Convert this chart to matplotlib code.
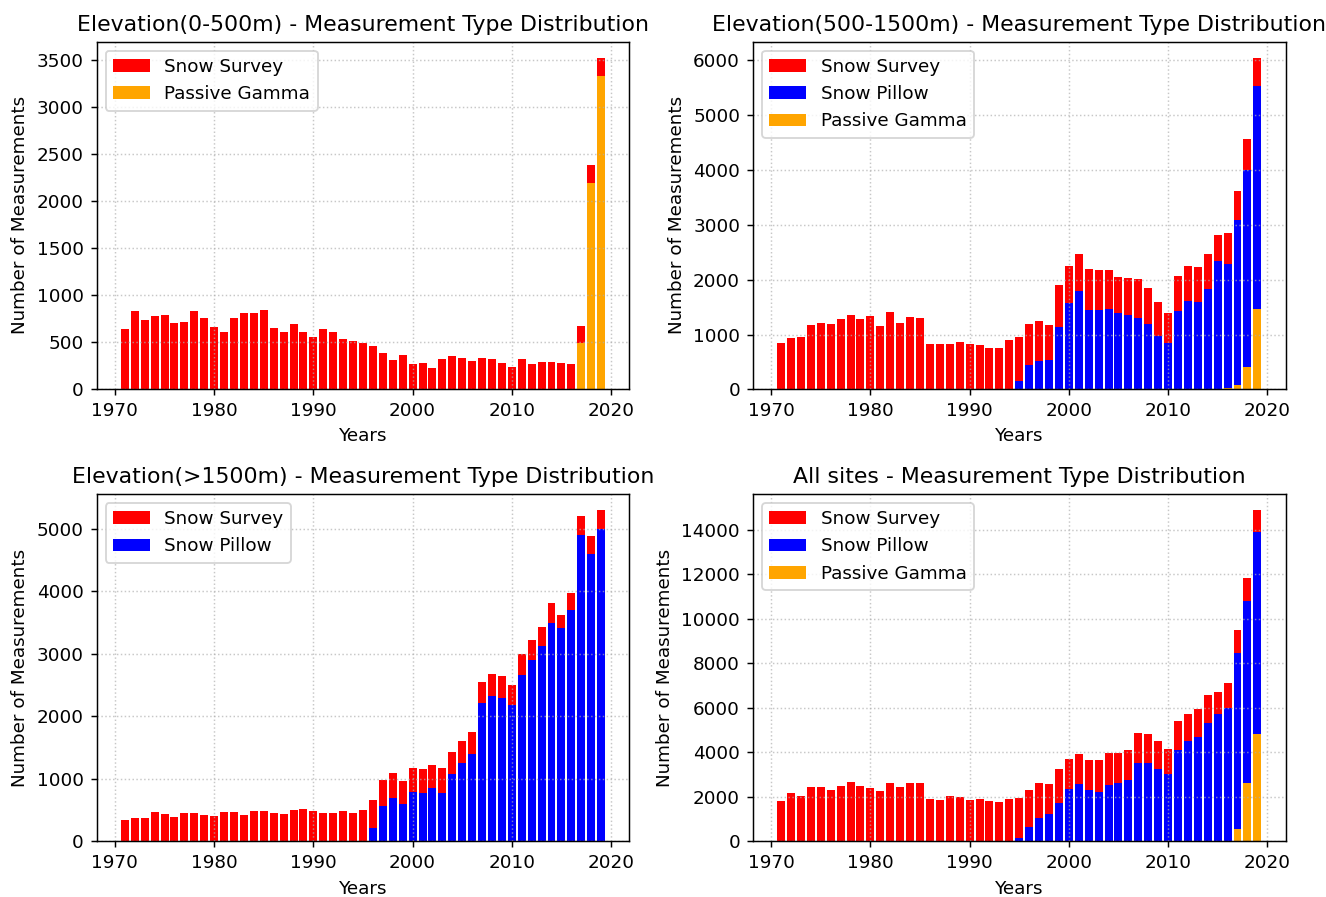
import matplotlib
matplotlib.use("Agg")
import matplotlib.pyplot as plt
import numpy as np

years = list(range(1971, 2020))

# ---- Elevation 0-500 m ----
low_survey = [638, 837, 741, 780, 787, 709, 720, 830, 755, 660,
              610, 755, 809, 809, 840, 649, 614, 692, 607, 557,
              638, 614, 532, 511, 496, 461, 383, 309, 362, 270,
              277, 230, 326, 358, 330, 298, 330, 326, 284, 238,
              323, 270, 294, 294, 277, 270, 187, 198, 187]
low_gamma = [0] * 46 + [488, 2192, 3338]

# ---- Elevation 500-1500 m ----
mid_survey = [848, 939, 952, 1182, 1218, 1194, 1279, 1364, 1291, 1333,
              1158, 1412, 1212, 1321, 1297, 830, 824, 836, 861, 818,
              812, 758, 758, 903, 805, 746, 727, 655, 770, 672,
              666, 740, 727, 709, 648, 679, 697, 654, 636, 546,
              643, 636, 642, 624, 479, 563, 533, 575, 509]
mid_pillow = [0] * 24 + [150, 448, 515, 527, 1133, 1576,
                         1794, 1448, 1442, 1467, 1394, 1357, 1309, 1188, 964, 854,
                         1430, 1612, 1588, 1836, 2333, 2261, 3006, 3588, 4066]
mid_gamma = [0] * 45 + [24, 79, 406, 1467]

# ---- Elevation >1500 m ----
high_survey = [351, 383, 372, 468, 447, 394, 463, 463, 426, 415,
               468, 468, 420, 484, 484, 452, 436, 500, 511, 479,
               463, 463, 479, 463, 508, 439, 410, 393, 367, 377,
               394, 373, 399, 362, 351, 356, 335, 346, 345, 319,
               335, 309, 298, 325, 208, 271, 313, 282, 298]
high_pillow = [0] * 25 + [218, 569, 697, 606, 793,
                          771, 856, 771, 1074, 1250, 1399, 2218, 2324, 2293, 2181,
                          2660, 2904, 3122, 3489, 3404, 3697, 4894, 4601, 4995]

# ---- All sites ----
all_survey = [1836, 2164, 2060, 2448, 2463, 2299, 2478, 2657, 2478, 2418,
              2254, 2642, 2448, 2612, 2612, 1926, 1881, 2030, 1985, 1866,
              1926, 1836, 1776, 1896, 1821, 1657, 1537, 1344, 1508, 1329,
              1344, 1358, 1448, 1433, 1328, 1329, 1358, 1328, 1269, 1105,
              1298, 1223, 1254, 1254, 971, 1105, 1030, 1060, 985]
all_pillow = [0] * 24 + [149, 657, 1075, 1239, 1731, 2358,
                         2567, 2299, 2224, 2537, 2642, 2761, 3523, 3508, 3254, 3030,
                         4105, 4508, 4702, 5314, 5731, 5961, 7896, 8164, 9060]
all_gamma = [0] * 45 + [24, 567, 2612, 4821]

titles = ["Elevation(0-500m) - Measurement Type Distribution",
          "Elevation(500-1500m) - Measurement Type Distribution",
          "Elevation(>1500m) - Measurement Type Distribution",
          "All sites - Measurement Type Distribution"]

panels = [
    (low_survey, None, low_gamma),
    (mid_survey, mid_pillow, mid_gamma),
    (high_survey, high_pillow, None),
    (all_survey, all_pillow, all_gamma),
]

dpi = 132
fig, axes = plt.subplots(2, 2, figsize=(1326 / dpi, 897 / dpi), dpi=dpi)
fig.subplots_adjust(left=0.0729, right=0.9695, top=0.9537, bottom=0.0619,
                    wspace=0.232, hspace=0.300)

x = np.array(years)
for ax, title, (survey, pillow, gamma) in zip(axes.flat, titles, panels):
    s = np.array(survey)
    p = np.array(pillow) if pillow is not None else np.zeros(len(x))
    g = np.array(gamma) if gamma is not None else np.zeros(len(x))
    ax.bar(x, s, bottom=p + g, color="red", label="Snow Survey")
    if pillow is not None:
        ax.bar(x, p, bottom=g, color="blue", label="Snow Pillow")
    if gamma is not None:
        ax.bar(x, g, color="orange", label="Passive Gamma")
    ax.set_title(title, fontsize=12)
    ax.set_xlabel("Years")
    ax.set_ylabel("Number of Measurements")
    ax.grid(True, linestyle=":", alpha=0.7)
    ax.legend(loc="upper left")

fig.savefig("out.png", dpi=dpi)
